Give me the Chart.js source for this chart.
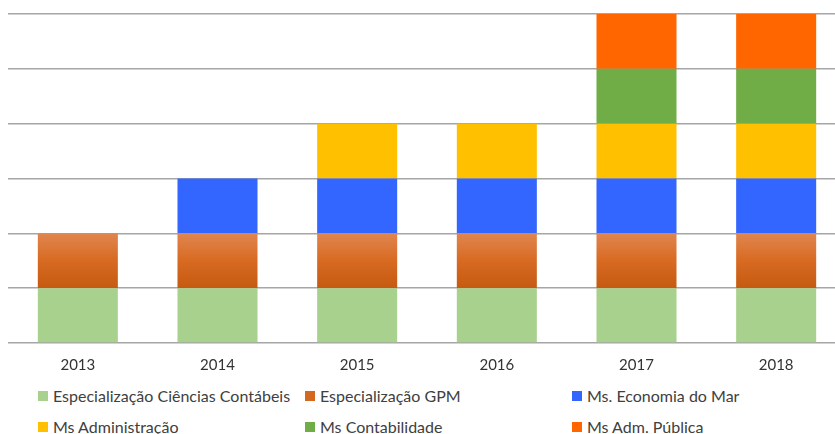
<!DOCTYPE html>
<html>
<head>
<meta charset="utf-8">
<script src="https://cdn.jsdelivr.net/npm/chart.js@4.4.1/dist/chart.umd.min.js"></script>
<style>
  html, body { margin: 0; padding: 0; background: #fff; overflow: hidden; width: 835px; height: 434px; }
  #wrap { position: absolute; left: 0; top: 0; width: 846px; height: 379px; }
  #legenda { position: absolute; left: 38px; top: 380px; display: grid;
             grid-template-columns: 267px 267px 267px; grid-auto-rows: 31px;
             font-family: Lato, "Open Sans", sans-serif; font-size: 16px; color: #404040; }
  .item { display: flex; align-items: center; white-space: nowrap; }
  .caixa { width: 10px; height: 10px; margin-right: 5px; flex: none; }
</style>
</head>
<body>
<div id="wrap"><canvas id="grafico" width="846" height="379"></canvas></div>
<div id="legenda"></div>
<script>
// ==============================
// Dados
// ==============================
const anos = ["2013", "2014", "2015", "2016", "2017", "2018"];
const espCiencias = [1, 1, 1, 1, 1, 1];
const espGPM = [1, 1, 1, 1, 1, 1];
const msEconomiaMar = [0, 1, 1, 1, 1, 1];
const msAdministracao = [0, 0, 1, 1, 1, 1];
const msContabilidade = [0, 0, 0, 0, 1, 1];
const msAdmPublica = [0, 0, 0, 0, 1, 1];
const yTicks = [0, 1, 2, 3, 4, 5, 6];

// gradiente do segmento GPM (claro em cima, escuro embaixo)
function gradienteGPM(ctx) {
    const chart = ctx.chart;
    const y = chart.scales.y;
    if (!y || !chart.chartArea) return "#D2691E";
    const g = chart.ctx.createLinearGradient(0, y.getPixelForValue(2), 0, y.getPixelForValue(1));
    g.addColorStop(0, "#E0864F");
    g.addColorStop(0.5, "#D86A22");
    g.addColorStop(1, "#C55A11");
    return g;
}

const series = [
    { label: "Especialização Ciências Contábeis", data: espCiencias, cor: "#A9D18E" },
    { label: "Especialização GPM", data: espGPM, cor: gradienteGPM, legenda: "#D2691E" },
    { label: "Ms. Economia do Mar", data: msEconomiaMar, cor: "#3366FF" },
    { label: "Ms Administração", data: msAdministracao, cor: "#FFC000" },
    { label: "Ms Contabilidade", data: msContabilidade, cor: "#70AD47" },
    { label: "Ms Adm. Pública", data: msAdmPublica, cor: "#FF6600" }
];

const ctx = document.getElementById("grafico").getContext("2d");
new Chart(ctx, {
    type: "bar",
    data: {
        labels: anos,
        datasets: series.map(s => ({
            label: s.label,
            data: s.data,
            backgroundColor: s.cor,
            borderWidth: 0,
            barPercentage: 0.573,
            categoryPercentage: 1
        }))
    },
    options: {
        responsive: false,
        animation: false,
        layout: { padding: { left: 8, right: 0, top: 14, bottom: 0 } },
        plugins: {
            legend: { display: false },
            tooltip: { enabled: false }
        },
        scales: {
            x: {
                stacked: true,
                grid: { display: false },
                border: { display: false },
                ticks: {
                    color: "#333333",
                    padding: 5,
                    font: { family: "Lato", size: 15 }
                }
            },
            y: {
                stacked: true,
                min: 0,
                max: 6,
                afterBuildTicks: axis => { axis.ticks = yTicks.map(v => ({ value: v })); },
                ticks: { display: false },
                border: { display: false },
                grid: { color: "#A6A6A6", lineWidth: 1.5, drawTicks: false }
            }
        }
    }
});

// legenda em grade 3 colunas
const leg = document.getElementById("legenda");
series.forEach(s => {
    const item = document.createElement("div");
    item.className = "item";
    const caixa = document.createElement("span");
    caixa.className = "caixa";
    caixa.style.background = s.legenda || s.cor;
    item.appendChild(caixa);
    item.appendChild(document.createTextNode(s.label));
    leg.appendChild(item);
});
</script>
</body>
</html>
